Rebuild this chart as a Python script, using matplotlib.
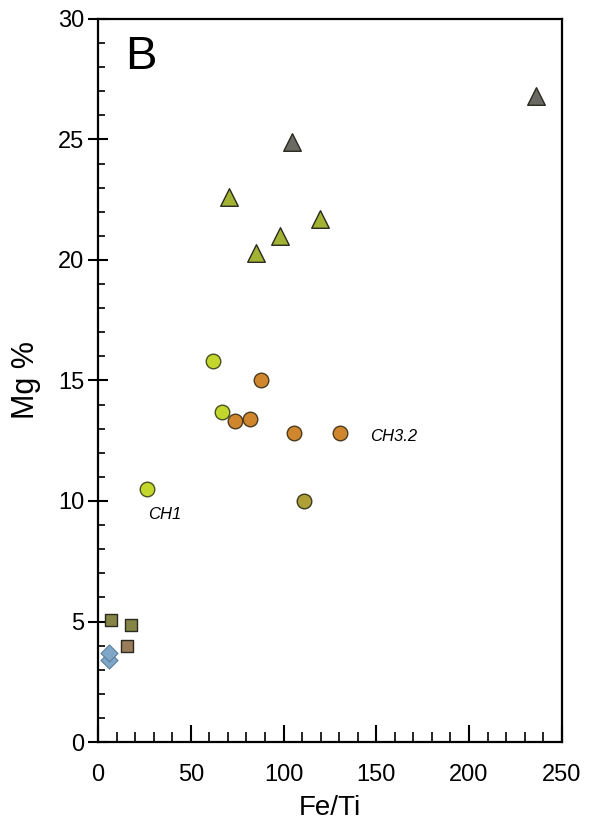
import matplotlib
matplotlib.use("Agg")
import matplotlib.pyplot as plt
from matplotlib.ticker import MultipleLocator

plt.rcParams['font.family'] = ['Liberation Sans', 'DejaVu Sans']

# Data (Fe/Ti, Mg %)
tri_green_x = [70.6, 85.1, 98.0, 119.6]
tri_green_y = [22.6, 20.3, 21.0, 21.7]
tri_gray_x = [104.5, 236.0]
tri_gray_y = [24.9, 26.8]
circ_light_x = [62.0, 66.8, 26.4]
circ_light_y = [15.8, 13.7, 10.5]
circ_orange_x = [87.8, 73.8, 81.9, 105.6, 130.4]
circ_orange_y = [15.0, 13.3, 13.4, 12.8, 12.8]
circ_olive_x = [111.0]
circ_olive_y = [10.0]
sq_olive_x = [7.0, 17.8]
sq_olive_y = [5.06, 4.85]
sq_tan_x = [15.6]
sq_tan_y = [3.98]
dia_x = [5.9, 5.9]
dia_y = [3.4, 3.7]

labels = [("CH1", 26.4, 10.5), ("CH3.2", 130.4, 12.8)]

fig = plt.figure(figsize=(5.92, 8.22), dpi=100)
ax = fig.add_axes([0.1655, 0.0973, 0.7835, 0.8797])

ec = '#2a2a20'
ax.scatter(dia_x, dia_y, marker='D', s=75, c='#7fa6c6', edgecolors='#5a7f9f', linewidths=0.8, zorder=3)
ax.scatter(sq_olive_x, sq_olive_y, marker='s', s=75, c='#858548', edgecolors=ec, linewidths=1.0, zorder=3)
ax.scatter(sq_tan_x, sq_tan_y, marker='s', s=85, c='#9a7c5a', edgecolors=ec, linewidths=1.0, zorder=3)
ax.scatter(circ_light_x, circ_light_y, marker='o', s=110, c='#c3d62c', edgecolors='#4a5020', linewidths=1.0, zorder=3)
ax.scatter(circ_orange_x, circ_orange_y, marker='o', s=110, c='#d0862c', edgecolors='#4a3a20', linewidths=1.0, zorder=3)
ax.scatter(circ_olive_x, circ_olive_y, marker='o', s=110, c='#aea036', edgecolors='#3a3a20', linewidths=1.0, zorder=3)
ax.scatter(tri_green_x, tri_green_y, marker='^', s=160, c='#a2b232', edgecolors=ec, linewidths=1.0, zorder=3)
ax.scatter(tri_gray_x, tri_gray_y, marker='^', s=160, c='#6a6a62', edgecolors=ec, linewidths=1.0, zorder=3)

ax.text(labels[0][1] + 0.5, labels[0][2] - 1.05, labels[0][0], fontsize=12, style='italic', ha='left', va='center')
ax.text(labels[1][1] + 16, labels[1][2] - 0.12, labels[1][0], fontsize=12, style='italic', ha='left', va='center')

ax.text(0.058, 0.978, "B", transform=ax.transAxes, fontsize=34, ha='left', va='top')

ax.set_xlim(0, 250)
ax.set_ylim(0, 30)
ax.xaxis.set_major_locator(MultipleLocator(50))
ax.xaxis.set_minor_locator(MultipleLocator(10))
ax.yaxis.set_major_locator(MultipleLocator(5))
ax.yaxis.set_minor_locator(MultipleLocator(1))
ax.tick_params(axis='x', which='major', direction='in', length=12, width=1.5, labelsize=17, pad=16)
ax.tick_params(axis='x', which='minor', direction='in', length=7, width=1.2)
ax.tick_params(axis='y', which='major', direction='inout', length=14, width=1.5, labelsize=17, pad=3)
ax.tick_params(axis='y', which='minor', direction='in', length=5, width=1.2)
for sp in ax.spines.values():
    sp.set_linewidth(1.6)

ax.set_xlabel("Fe/Ti", fontsize=20, labelpad=6)
ax.set_ylabel("Mg %", fontsize=22, labelpad=12)

fig.savefig("out.png", dpi=100)
